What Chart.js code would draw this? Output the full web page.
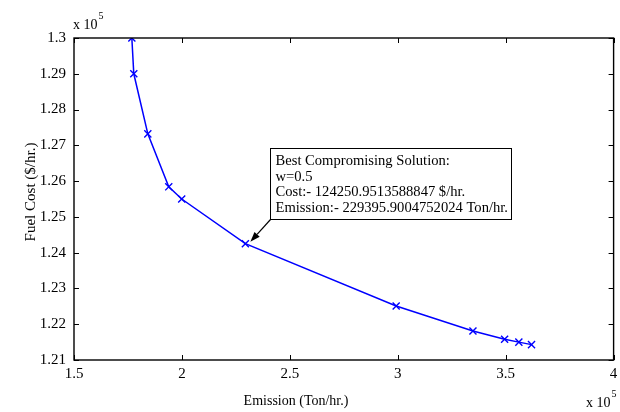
<!DOCTYPE html>
<html>
<head>
<meta charset="utf-8">
<script src="https://cdn.jsdelivr.net/npm/chart.js@4.4.1/dist/chart.umd.min.js"></script>
<style>
  html, body { margin: 0; padding: 0; background: #fff; }
</style>
</head>
<body>
<canvas id="c" width="620" height="412"></canvas>
<script>
// Pareto front: emission (Ton/hr.) vs fuel cost ($/hr.)
const emission = [176800, 177700, 184200, 193900, 199900, 229396, 299260, 334840, 349500, 356100, 361970];
const fuelCost = [130000, 129000, 127320, 125840, 125500, 124251, 122510, 121810, 121580, 121500, 121430];
const xTicks = [150000, 200000, 250000, 300000, 350000, 400000];
const yTicks = [121000, 122000, 123000, 124000, 125000, 126000, 127000, 128000, 129000, 130000];
const bestIdx = 5;
const noteLines = [
  'Best Compromising Solution:',
  'w=0.5',
  'Cost:- 124250.9513588847 $/hr.',
  'Emission:- 229395.9004752024 Ton/hr.'
];

const SERIF = '"Liberation Serif", "DejaVu Serif", serif';
Chart.defaults.font.family = SERIF;
Chart.defaults.color = '#000';

const fmt = v => String(parseFloat((v / 1e5).toFixed(3)));

// frame, inward ticks, exponents, axis titles, the note box + arrow
const decorations = {
  id: 'decorations',
  afterDraw(chart) {
    const { ctx, chartArea: a, scales } = chart;
    const xs = scales.x, ys = scales.y;
    ctx.save();
    ctx.strokeStyle = '#000';
    ctx.lineWidth = 1.4;
    ctx.strokeRect(a.left, a.top, a.right - a.left, a.bottom - a.top);

    const tl = 5;
    ctx.beginPath();
    xTicks.forEach(v => {
      const px = Math.round(xs.getPixelForValue(v)) + 0.5;
      ctx.moveTo(px, a.bottom); ctx.lineTo(px, a.bottom - tl);
      ctx.moveTo(px, a.top); ctx.lineTo(px, a.top + tl);
    });
    yTicks.forEach(v => {
      const py = Math.round(ys.getPixelForValue(v)) + 0.5;
      ctx.moveTo(a.left, py); ctx.lineTo(a.left + tl, py);
      ctx.moveTo(a.right, py); ctx.lineTo(a.right - tl, py);
    });
    ctx.lineWidth = 1;
    ctx.stroke();

    // x 10^5 multipliers
    ctx.fillStyle = '#000';
    ctx.textBaseline = 'middle';
    ctx.textAlign = 'left';
    ctx.font = '14px ' + SERIF;
    ctx.fillText('x 10', a.left - 1, 25);
    let w = ctx.measureText('x 10').width;
    ctx.font = '10px ' + SERIF;
    ctx.fillText('5', a.left - 1 + w + 1, 16);
    ctx.font = '14px ' + SERIF;
    w = ctx.measureText('x 10').width;
    ctx.fillText('x 10', a.right - w - 3, 403);
    ctx.font = '10px ' + SERIF;
    ctx.fillText('5', a.right - 2, 394);

    // axis titles
    ctx.font = '14px ' + SERIF;
    ctx.textAlign = 'center';
    ctx.fillText('Emission (Ton/hr.)', 296, 401);
    ctx.font = '15px ' + SERIF;
    ctx.save();
    ctx.translate(31, 192);
    ctx.rotate(-Math.PI / 2);
    ctx.fillText('Fuel Cost ($/hr.)', 0, 0);
    ctx.restore();

    // note box
    const bx = Math.round(xs.getPixelForValue(240600)) + 0.5;
    const by = Math.round(ys.getPixelForValue(126930)) + 0.5;
    ctx.font = '14.6px ' + SERIF;
    const tw = Math.max(...noteLines.map(s => ctx.measureText(s).width));
    const bw = Math.round(tw + 9), bh = 71;
    ctx.fillStyle = '#fff';
    ctx.fillRect(bx, by, bw, bh);
    ctx.strokeStyle = '#000';
    ctx.lineWidth = 1;
    ctx.strokeRect(bx, by, bw, bh);
    ctx.fillStyle = '#000';
    ctx.textAlign = 'left';
    noteLines.forEach((s, i) => ctx.fillText(s, bx + 5, by + 13 + i * 15.5));

    // arrow from box corner to best point
    const tx = xs.getPixelForValue(emission[bestIdx]) + 5;
    const ty = ys.getPixelForValue(fuelCost[bestIdx]) - 2;
    const sx = bx, sy = by + bh;
    const ang = Math.atan2(ty - sy, tx - sx);
    const hl = 10, hw = 3.5;
    const baseX = tx - hl * Math.cos(ang), baseY = ty - hl * Math.sin(ang);
    ctx.beginPath();
    ctx.moveTo(sx, sy); ctx.lineTo(baseX, baseY);
    ctx.lineWidth = 1.2;
    ctx.stroke();
    ctx.beginPath();
    ctx.moveTo(tx, ty);
    ctx.lineTo(baseX + hw * Math.sin(ang), baseY - hw * Math.cos(ang));
    ctx.lineTo(baseX - hw * Math.sin(ang), baseY + hw * Math.cos(ang));
    ctx.closePath();
    ctx.fill();
    ctx.restore();
  }
};

new Chart(document.getElementById('c'), {
  type: 'scatter',
  data: {
    datasets: [{
      data: emission.map((x, i) => ({ x, y: fuelCost[i] })),
      showLine: true,
      borderColor: '#0000ff',
      borderWidth: 1.5,
      pointStyle: 'crossRot',
      pointRadius: 5,
      pointBorderWidth: 1.4,
      pointBorderColor: '#0000ff',
      pointBackgroundColor: '#0000ff',
      tension: 0
    }]
  },
  options: {
    responsive: false,
    animation: false,
    devicePixelRatio: 1,
    layout: { padding: { top: 38, right: 0, left: 0, bottom: 0 } },
    plugins: { legend: { display: false }, tooltip: { enabled: false } },
    scales: {
      x: {
        type: 'linear',
        min: 150000,
        max: 400000,
        afterBuildTicks: s => { s.ticks = xTicks.map(v => ({ value: v })); },
        afterFit: s => { s.height = 52; s.paddingLeft = 0; s.paddingRight = 5; },
        grid: { display: false, drawTicks: false },
        border: { display: false },
        ticks: { callback: fmt, font: { size: 15 }, padding: 5, maxRotation: 0, autoSkip: false }
      },
      y: {
        type: 'linear',
        min: 121000,
        max: 130000,
        afterBuildTicks: s => { s.ticks = yTicks.map(v => ({ value: v })); },
        afterFit: s => { s.width = 74; s.paddingTop = 0; s.paddingBottom = 0; },
        grid: { display: false, drawTicks: false },
        border: { display: false },
        ticks: { callback: fmt, font: { size: 15 }, padding: 8, autoSkip: false }
      }
    }
  },
  plugins: [decorations]
});
</script>
</body>
</html>
